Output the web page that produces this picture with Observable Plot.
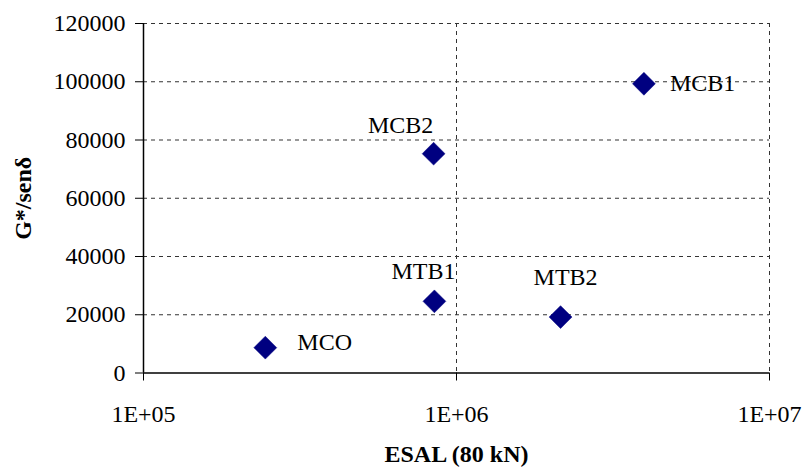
<!DOCTYPE html>
<html><head><meta charset="utf-8">
<script src="https://cdn.jsdelivr.net/npm/d3@7"></script>
<script src="https://cdn.jsdelivr.net/npm/@observablehq/plot@0.6"></script>
<style>body{margin:0;background:#fff}</style>
</head><body><div id="chart"></div>
<script>
const names = ["MCO","MTB1","MTB2","MCB2","MCB1"];
const esal = [245000, 850000, 2150000, 845000, 3970000];
const gsen = [8700, 24600, 19200, 75300, 99300];
const xTicks = [1e5, 1e6, 1e7];
const yTicks = [0, 20000, 40000, 60000, 80000, 100000, 120000];

const data = names.map((n, i) => ({name: n, x: esal[i], y: gsen[i]}));
const labelOffset = {
  MCO:  {dx: 32, dy: -5, anchor: "start"},
  MTB1: {dx: -11, dy: -30, anchor: "middle"},
  MTB2: {dx: 5, dy: -40, anchor: "middle"},
  MCB2: {dx: -33, dy: -28, anchor: "middle"},
  MCB1: {dx: 26, dy: 0, anchor: "start"}
};
const font = "'Liberation Serif', 'Times New Roman', serif";
const FS = 24;
const grid = {stroke: "#333", strokeDasharray: "4,4", strokeWidth: 1};
const xFmt = d => "1E+0" + Math.round(Math.log10(d));

const textMarks = names.map(n => Plot.text(data.filter(d => d.name === n), {
  x: "x", y: "y", text: "name",
  dx: labelOffset[n].dx, dy: labelOffset[n].dy,
  textAnchor: labelOffset[n].anchor, lineAnchor: "middle",
  fontSize: FS, fill: "#000"
}));

const chart = Plot.plot({
  width: 803, height: 468,
  marginLeft: 143, marginRight: 34, marginTop: 23, marginBottom: 95.5,
  style: {fontFamily: font, fontSize: FS + "px", color: "#000", background: "#fff"},
  x: {type: "log", domain: [1e5, 1e7], label: null},
  y: {domain: [0, 120000], label: null},
  marks: [
    Plot.ruleY(yTicks.filter(t => t > 0), grid),
    Plot.ruleX(xTicks.filter(t => t > 1e5), grid),
    Plot.axisX({ticks: xTicks, tickFormat: xFmt, tickSize: 8, tickPadding: 24, label: null, fontSize: FS}),
    Plot.axisY({ticks: yTicks, tickFormat: d => String(d), tickSize: 8, tickPadding: 10, label: null, fontSize: FS}),
    Plot.ruleY([0], {stroke: "#000", strokeWidth: 1.5}),
    Plot.ruleX([1e5], {stroke: "#000", strokeWidth: 1.5}),
    Plot.dot(data, {x: "x", y: "y", symbol: "diamond2", r: 10.3, fill: "#000080", stroke: "#000080", strokeWidth: 0.5}),
    ...textMarks,
    Plot.text(["ESAL (80 kN)"], {frameAnchor: "bottom", dy: 89, fontWeight: "bold", fontSize: FS, lineAnchor: "bottom", text: d => d}),
    Plot.text(["G*/senδ"], {frameAnchor: "left", textAnchor: "middle", dx: -120, rotate: -90, fontWeight: "bold", fontSize: FS, text: d => d})
  ]
});
document.getElementById("chart").appendChild(chart);
</script></body></html>
